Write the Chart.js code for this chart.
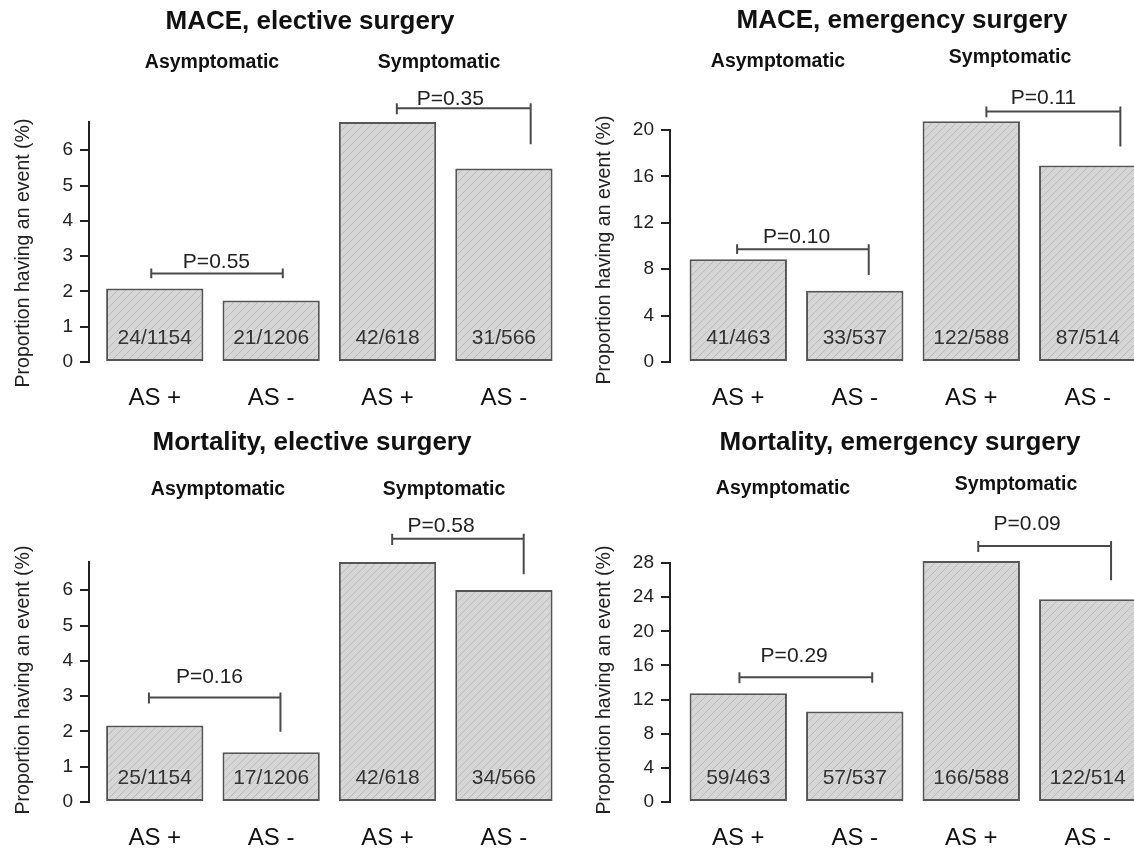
<!DOCTYPE html>
<html>
<head>
<meta charset="utf-8">
<script src="https://cdn.jsdelivr.net/npm/chart.js@4.4.1/dist/chart.umd.min.js"></script>
<style>
  body { margin: 0; background: #fff; }
  #wrap { position: relative; width: 1134px; height: 855px; overflow: hidden; }
  canvas { position: absolute; }
</style>
</head>
<body>
<div id="wrap">
  <canvas id="maceElective" width="567" height="427" style="left:0;top:0"></canvas>
  <canvas id="maceEmergency" width="567" height="427" style="left:567px;top:0"></canvas>
  <canvas id="mortElective" width="567" height="428" style="left:0;top:427px"></canvas>
  <canvas id="mortEmergency" width="567" height="428" style="left:567px;top:427px"></canvas>
</div>
<script>
// data (percent having an event)
const barLabels = ["AS +", "AS -", "AS +", "AS -"];
const groupNames = ["Asymptomatic", "Symptomatic"];
const yAxisTitle = "Proportion having an event (%)";

const maceElective = [2.08, 1.74, 6.80, 5.48];
const maceElectiveCounts = ["24/1154", "21/1206", "42/618", "31/566"];
const maceElectiveP = ["P=0.55", "P=0.35"];

const maceEmergency = [8.86, 6.15, 20.75, 16.93];
const maceEmergencyCounts = ["41/463", "33/537", "122/588", "87/514"];
const maceEmergencyP = ["P=0.10", "P=0.11"];

const mortElective = [2.17, 1.41, 6.80, 6.01];
const mortElectiveCounts = ["25/1154", "17/1206", "42/618", "34/566"];
const mortElectiveP = ["P=0.16", "P=0.58"];

const mortEmergency = [12.74, 10.61, 28.23, 23.74];
const mortEmergencyCounts = ["59/463", "57/537", "166/588", "122/514"];
const mortEmergencyP = ["P=0.29", "P=0.09"];

const FONT = "'Liberation Sans', Arial, Helvetica, sans-serif";
Chart.defaults.font.family = FONT;
Chart.defaults.color = "#222";

function makeHatch() {
  const c = document.createElement("canvas");
  c.width = 8;
  c.height = 8;
  const g = c.getContext("2d");
  g.fillStyle = "#d6d6d6";
  g.fillRect(0, 0, 8, 8);
  g.strokeStyle = "#bcbcbc";
  g.lineWidth = 1;
  g.beginPath();
  g.moveTo(0, 8); g.lineTo(8, 0);
  g.moveTo(-1, 1); g.lineTo(1, -1);
  g.moveTo(7, 9); g.lineTo(9, 7);
  g.stroke();
  return c;
}
const hatchTile = makeHatch();

// brackets and label positions in data units (x = bar index, y = percent)
const annotate = {
  id: "annotate",
  afterDraw(chart, args, o) {
    const { ctx } = chart;
    const x = chart.scales.x, y = chart.scales.y;
    ctx.save();
    ctx.textAlign = "center";
    ctx.textBaseline = "middle";

    ctx.font = "21px " + FONT;
    ctx.fillStyle = "#333";
    o.counts.forEach((t, i) => {
      ctx.fillText(t, x.getPixelForValue(i), y.getPixelForValue(0) - 24);
    });

    ctx.strokeStyle = "#4a4a4a";
    ctx.lineWidth = 2;
    o.brackets.forEach((b, i) => {
      const x1 = x.getPixelForValue(b.from);
      const x2 = x.getPixelForValue(b.to);
      const yy = y.getPixelForValue(b.at);
      ctx.beginPath();
      ctx.moveTo(x1, yy - 5); ctx.lineTo(x1, y.getPixelForValue(b.dropL));
      ctx.moveTo(x1, yy); ctx.lineTo(x2, yy);
      ctx.moveTo(x2, yy - 5); ctx.lineTo(x2, y.getPixelForValue(b.dropR));
      ctx.stroke();
      ctx.fillStyle = "#222";
      ctx.fillText(o.pLabels[i], x.getPixelForValue(b.text[0]), y.getPixelForValue(b.text[1]));
    });

    ctx.fillStyle = "#111";
    ctx.font = "bold 26px " + FONT;
    ctx.fillText(o.title, o.titleAt[0], o.titleAt[1]);
    ctx.font = "bold 19.5px " + FONT;
    groupNames.forEach((g, i) => ctx.fillText(g, o.groupsAt[i][0], o.groupsAt[i][1]));

    ctx.fillStyle = "#222";
    ctx.font = "19.5px " + FONT;
    ctx.translate(o.yTitleAt[0], o.yTitleAt[1]);
    ctx.rotate(-Math.PI / 2);
    ctx.fillText(yAxisTitle, 0, 0);
    ctx.restore();
  }
};

function drawPanel(id, title, values, counts, pLabels, L) {
  const canvas = document.getElementById(id);
  const H = canvas.height;
  const ctx = canvas.getContext("2d");
  new Chart(ctx, {
    type: "bar",
    data: {
      datasets: [{
        data: values.map((v, i) => ({ x: i, y: v })),
        backgroundColor: ctx.createPattern(hatchTile, "repeat"),
        borderColor: "#555",
        borderWidth: 2,
        borderSkipped: false,
        barPercentage: 0.836,
        categoryPercentage: 1,
        clip: false,
      }],
    },
    options: {
      responsive: false,
      animation: false,
      events: [],
      layout: { padding: { top: L.plotTop, right: canvas.width - L.plotRight, bottom: 0, left: 0 } },
      plugins: {
        legend: { display: false },
        tooltip: { enabled: false },
        annotate: {
          title: title,
          counts: counts,
          pLabels: pLabels,
          brackets: L.brackets,
          titleAt: L.titleAt,
          groupsAt: L.groupsAt,
          yTitleAt: L.yTitleAt,
        },
      },
      scales: {
        x: {
          type: "linear",
          offset: false,
          min: L.xMin,
          max: L.xMax,
          afterBuildTicks: (s) => { s.ticks = barLabels.map((_, i) => ({ value: i })); },
          afterFit: (s) => { s.height = H - L.zeroY; },
          grid: { display: false, drawTicks: false, offset: false },
          border: { display: false },
          ticks: {
            callback: (v) => barLabels[v],
            padding: 22,
            autoSkip: false,
            maxRotation: 0,
            color: "#111",
            font: { size: 24 },
          },
        },
        y: {
          min: 0,
          max: L.yMax,
          afterFit: (s) => { s.width = L.axisX; },
          grid: { drawOnChartArea: false, tickLength: 9, color: "#222", lineWidth: 2 },
          border: { display: true, color: "#222", width: 2 },
          ticks: {
            stepSize: L.yStep,
            includeBounds: false,
            padding: 7,
            color: "#222",
            font: { size: 19 },
          },
        },
      },
    },
    plugins: [annotate],
  });
}

drawPanel("maceElective", "MACE, elective surgery", maceElective, maceElectiveCounts, maceElectiveP, {
  axisX: 89, plotTop: 122, zeroY: 362, plotRight: 560,
  xMin: -0.565, xMax: 3.482, yMax: 6.8, yStep: 1,
  titleAt: [310, 22], groupsAt: [[212, 63], [439, 63]], yTitleAt: [24, 253],
  brackets: [
    { from: -0.03, to: 1.10, at: 2.51, dropL: 2.37, dropR: 2.37, text: [0.53, 2.82] },
    { from: 2.08, to: 3.23, at: 7.19, dropL: 7.02, dropR: 6.17, text: [2.54, 7.46] },
  ],
});

drawPanel("maceEmergency", "MACE, emergency surgery", maceEmergency, maceEmergencyCounts, maceEmergencyP, {
  axisX: 103, plotTop: 130, zeroY: 362, plotRight: 567,
  xMin: -0.586, xMax: 3.397, yMax: 20, yStep: 4,
  titleAt: [335, 21], groupsAt: [[211, 62], [443, 58]], yTitleAt: [38, 250],
  brackets: [
    { from: -0.01, to: 1.12, at: 9.71, dropL: 9.30, dropR: 7.49, text: [0.50, 10.79] },
    { from: 2.13, to: 3.28, at: 21.59, dropL: 21.1, dropR: 18.57, text: [2.62, 22.75] },
  ],
});

drawPanel("mortElective", "Mortality, elective surgery", mortElective, mortElectiveCounts, mortElectiveP, {
  axisX: 89, plotTop: 135, zeroY: 375, plotRight: 560,
  xMin: -0.565, xMax: 3.482, yMax: 6.8, yStep: 1,
  titleAt: [312, 16], groupsAt: [[218, 63], [444, 63]], yTitleAt: [24, 253],
  brackets: [
    { from: -0.05, to: 1.08, at: 2.96, dropL: 2.79, dropR: 1.99, text: [0.47, 3.54] },
    { from: 2.04, to: 3.17, at: 7.46, dropL: 7.28, dropR: 6.45, text: [2.46, 7.81] },
  ],
});

drawPanel("mortEmergency", "Mortality, emergency surgery", mortEmergency, mortEmergencyCounts, mortEmergencyP, {
  axisX: 103, plotTop: 136, zeroY: 375, plotRight: 567,
  xMin: -0.586, xMax: 3.397, yMax: 28, yStep: 4,
  titleAt: [333, 16], groupsAt: [[216, 62], [449, 58]], yTitleAt: [38, 253],
  brackets: [
    { from: 0.01, to: 1.15, at: 14.61, dropL: 13.91, dropR: 13.98, text: [0.48, 17.07] },
    { from: 2.06, to: 3.20, at: 29.99, dropL: 29.29, dropR: 25.98, text: [2.48, 32.6] },
  ],
});
</script>
</body>
</html>
